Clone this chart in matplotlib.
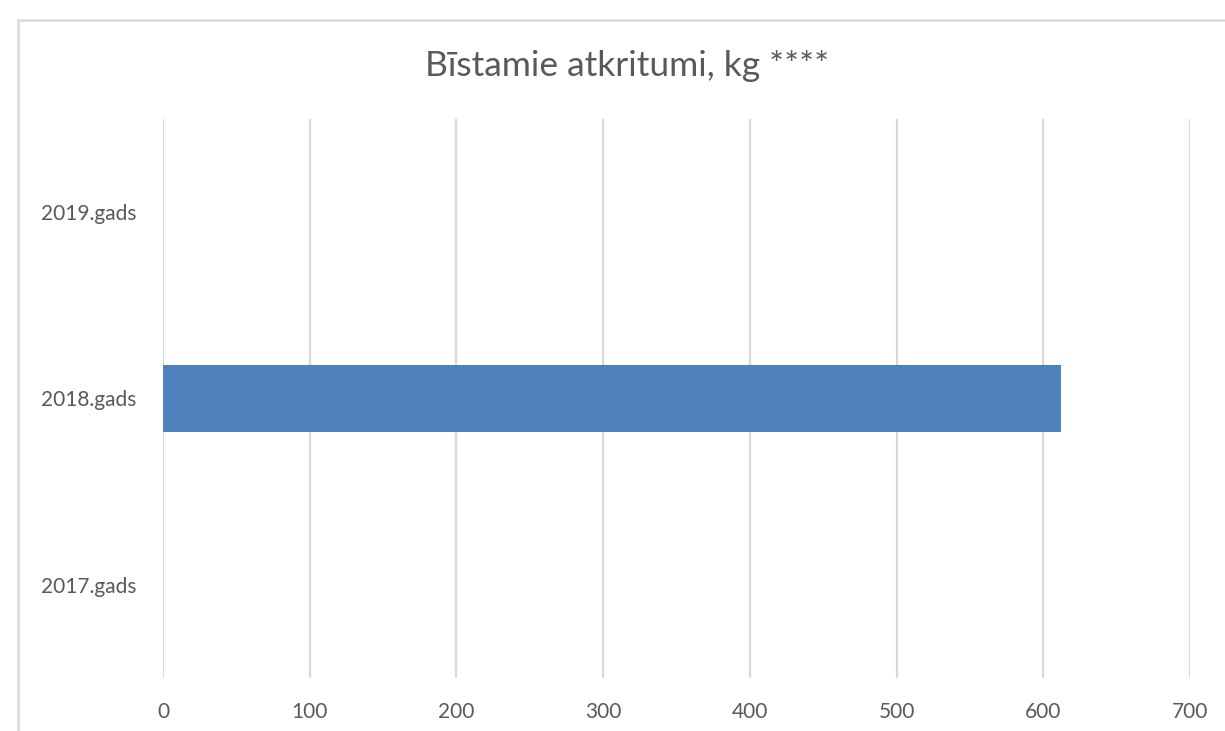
import numpy as np
import matplotlib.pyplot as plt
from matplotlib.patches import Rectangle

# data
years = ['2017.gads', '2018.gads', '2019.gads']
values = [0, 612, 0]
ticks = [0, 100, 200, 300, 400, 500, 600, 700]

plt.rcParams['font.family'] = ['Lato', 'DejaVu Sans']

fig = plt.figure(figsize=(12.25, 7.31), dpi=100)
W, H = 1225, 731

# chart area border (runs off the right and bottom edges)
fig.patches.append(Rectangle((18 / W, -0.1), 1.2, 1.1 - 20 / H, transform=fig.transFigure,
                             fill=False, edgecolor='#d9d9d9', linewidth=1.8))

ax = fig.add_axes([163 / W, 53 / H, (1190 - 163) / W, (678 - 119) / H])
y = np.arange(len(years))
ax.barh(y, values, height=0.357, color='#4f81bd', zorder=3)

ax.set_xlim(0, 700)
ax.set_ylim(-0.5, 2.5)
ax.set_xticks(ticks)
ax.set_yticks(y)
ax.set_yticklabels(years)
ax.grid(axis='x', color='#d9d9d9', linewidth=1.6, zorder=0)
for s in ax.spines.values():
    s.set_visible(False)
ax.tick_params(length=0, labelsize=15, colors='#595959')
ax.tick_params(axis='x', pad=17)
ax.tick_params(axis='y', pad=19)

fig.text(627 / W, 1 - 66 / H, 'Bīstamie atkritumi, kg ****', ha='center', va='center',
         fontsize=25.5, color='#595959')

fig.savefig('out.png', dpi=100)
